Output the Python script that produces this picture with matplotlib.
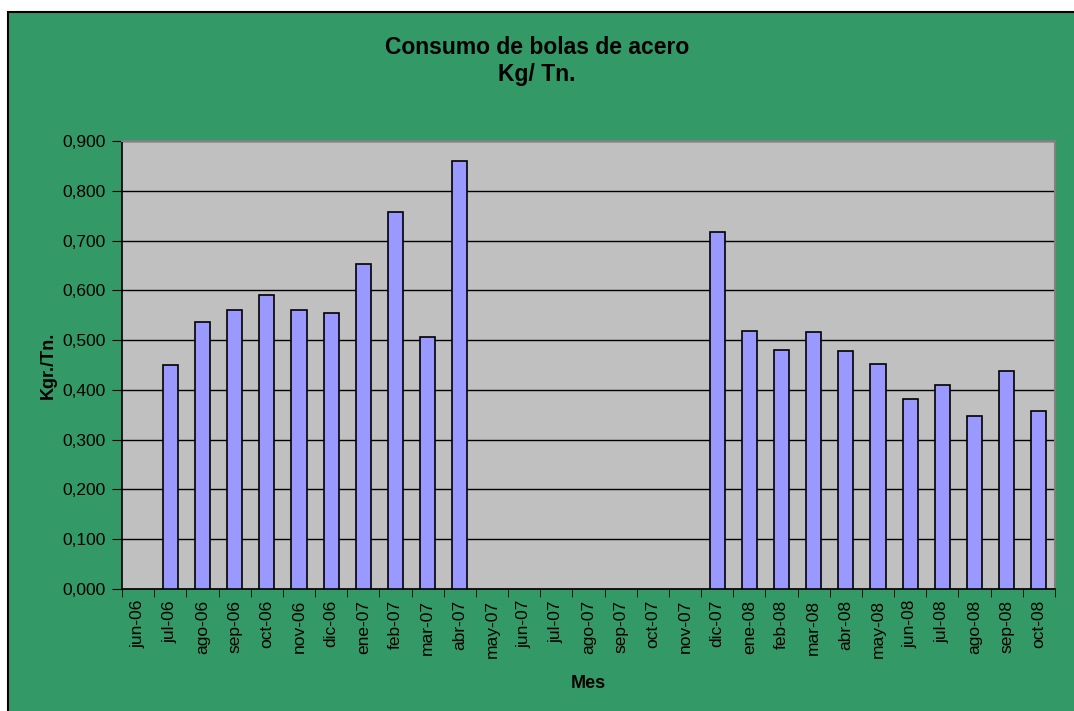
import numpy as np
import matplotlib.pyplot as plt
from matplotlib.patches import Rectangle

plt.rcParams['font.family'] = ['Liberation Sans', 'DejaVu Sans']

# meses jun-06 .. oct-08
meses = ['jun-06', 'jul-06', 'ago-06', 'sep-06', 'oct-06', 'nov-06', 'dic-06',
         'ene-07', 'feb-07', 'mar-07', 'abr-07', 'may-07', 'jun-07', 'jul-07',
         'ago-07', 'sep-07', 'oct-07', 'nov-07', 'dic-07',
         'ene-08', 'feb-08', 'mar-08', 'abr-08', 'may-08', 'jun-08', 'jul-08',
         'ago-08', 'sep-08', 'oct-08']
consumo = [np.nan, 0.450, 0.536, 0.560, 0.591, 0.560, 0.554,
           0.653, 0.757, 0.506, 0.860, np.nan, np.nan, np.nan,
           np.nan, np.nan, np.nan, np.nan, 0.717,
           0.518, 0.480, 0.516, 0.478, 0.452, 0.382, 0.410,
           0.348, 0.438, 0.358]
y_ticks = [0.0, 0.1, 0.2, 0.3, 0.4, 0.5, 0.6, 0.7, 0.8, 0.9]

fig = plt.figure(figsize=(10.74, 7.11), dpi=100, facecolor='white')
# fondo verde, borde visible solo arriba e izquierda (se sale por abajo/derecha)
fig.patches.append(Rectangle((8 / 1074, -0.05), 1.2, 1 - 12 / 711 + 0.05,
                             transform=fig.transFigure, facecolor='#339966',
                             edgecolor='black', linewidth=1.5, zorder=-5))

ax = fig.add_axes([122 / 1074, 1 - 589 / 711, 933 / 1074, 448 / 711])
ax.set_zorder(2)
ax.set_facecolor('#C0C0C0')

x = np.arange(len(meses))
ax.bar(x, consumo, width=0.47, color='#9999FF', edgecolor='black', linewidth=1.2, zorder=3)

ax.set_xlim(-0.5, len(meses) - 0.5)
ax.set_ylim(0, 0.9)
ax.set_yticks(y_ticks)
ax.set_yticklabels([f'{v:.3f}'.replace('.', ',') for v in y_ticks], fontsize=12.5)
ax.yaxis.grid(True, color='black', linewidth=1, zorder=1)
ax.set_axisbelow(True)

ax.set_xticks(x)
ax.set_xticklabels(meses, rotation=90, fontsize=12.5)
ax.tick_params(axis='x', length=0, pad=8)
ax.set_xticks(np.arange(len(meses) + 1) - 0.5, minor=True)
ax.tick_params(axis='x', which='minor', length=6, color='black', direction='out')
ax.tick_params(axis='y', length=7, color='black', direction='out', pad=5)

for s in ['left', 'bottom']:
    ax.spines[s].set_color('black')
    ax.spines[s].set_linewidth(1.2)
for s in ['top', 'right']:
    ax.spines[s].set_color('#808080')
    ax.spines[s].set_linewidth(1.5)

ax.set_xlabel('Mes', fontsize=13, fontweight='bold', labelpad=12)
ax.set_ylabel('Kgr./Tn.', fontsize=13, fontweight='bold', labelpad=4)

fig.text(0.5, 1 - 47 / 711, 'Consumo de bolas de acero', ha='center', va='center',
         fontsize=16.5, fontweight='bold')
fig.text(0.5, 1 - 75 / 711, 'Kg/ Tn.', ha='center', va='center',
         fontsize=16.5, fontweight='bold')

fig.savefig('out.png', dpi=100, facecolor='white')
